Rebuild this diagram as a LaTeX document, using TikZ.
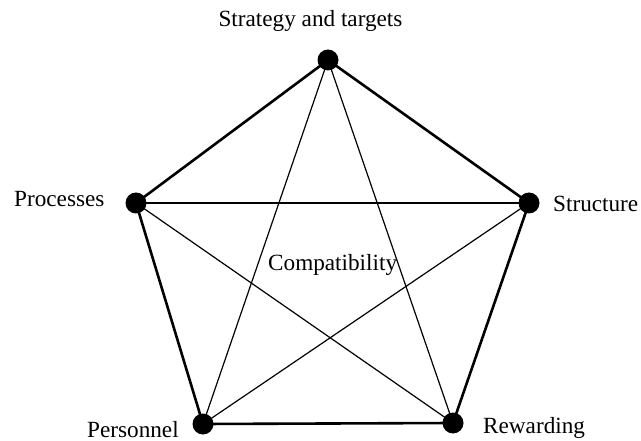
\documentclass[tikz,border=0pt]{standalone}
\usepackage{fontspec}
\setmainfont{Liberation Serif}
\begin{document}
\begin{tikzpicture}[x=1pt,y=-1pt,
  dot/.style={circle,fill=black,draw=none,minimum size=21pt,inner sep=0pt},
  lbl/.style={inner sep=0pt,font=\fontsize{23.2}{27}\selectfont},
  outer/.style={line width=2.6pt},
  inner/.style={line width=1.2pt}]
\useasboundingbox (0,0) rectangle (641,441);
\fill[white] (0,0) rectangle (641,441);
\coordinate (s) at (328,60);
\coordinate (p) at (136,203);
\coordinate (t) at (529,203);
\coordinate (e) at (203,424);
\coordinate (r) at (453,423);
\draw[outer] (s) -- (t) -- (r) -- (e) -- (p) -- cycle;
\draw[inner] (s) -- (e);
\draw[inner] (s) -- (r);
\draw[inner] (p) -- (t);
\draw[inner] (p) -- (r);
\draw[inner] (t) -- (e);
\node[dot] (S) at (s) {};
\node[dot] (P) at (p) {};
\node[dot] (T) at (t) {};
\node[dot] (E) at (e) {};
\node[dot] (R) at (r) {};
\node[lbl,anchor=base] (Ls) at (310.5,27) {Strategy and targets};
\node[lbl,anchor=base west] (Lp) at (14,207) {Processes};
\node[lbl,anchor=base west] (Lt) at (553,212) {Structure};
\node[lbl,anchor=base west] (Le) at (87,437) {Personnel};
\node[lbl,anchor=base west] (Lr) at (483,433) {Rewarding};
\node[lbl,anchor=base west] (Lc) at (268,271) {Compatibility};
\end{tikzpicture}
\end{document}
